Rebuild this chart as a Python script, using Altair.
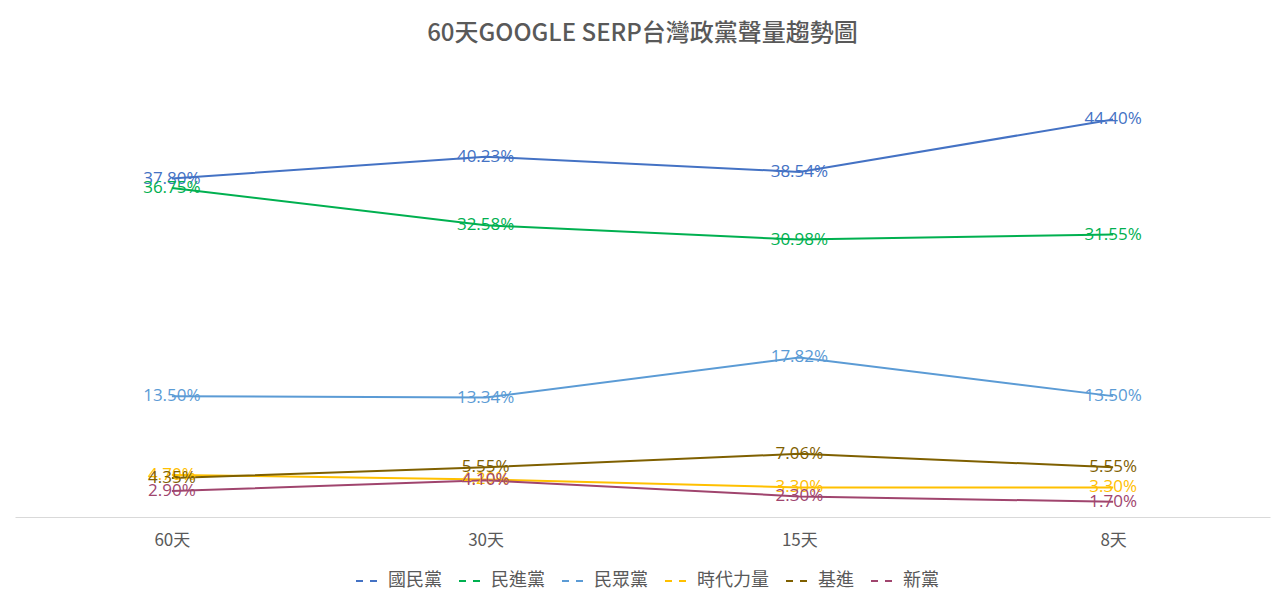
import altair as alt
import pandas as pd

periods = ["60天", "30天", "15天", "8天"]
parties = ["國民黨", "民進黨", "民眾黨", "時代力量", "基進", "新黨"]
kmt = [37.80, 40.23, 38.54, 44.40]
dpp = [36.75, 32.58, 30.98, 31.55]
tpp = [13.50, 13.34, 17.82, 13.50]
npp = [4.70, 4.20, 3.30, 3.30]
tsp = [4.35, 5.55, 7.06, 5.55]
np_ = [2.90, 4.10, 2.30, 1.70]
colors = ["#4472C4", "#00B050", "#5B9BD5", "#FFC000", "#7F6000", "#A0456E"]

series = [kmt, dpp, tpp, npp, tsp, np_]
rows = []
for party, vals in zip(parties, series):
    for p, v in zip(periods, vals):
        rows.append({"period": p, "party": party, "value": v, "label": f"{v:.2f}%"})
df = pd.DataFrame(rows)

x = alt.X("period:N", sort=periods, scale=alt.Scale(type="point", padding=0.5),
          axis=alt.Axis(title=None, labelAngle=0, ticks=False, domainColor="#D9D9D9",
                        domainWidth=1, labelColor="#595959", labelFontSize=17,
                        labelFont="Noto Sans CJK TC", labelPadding=15))
y = alt.Y("value:Q", scale=alt.Scale(domain=[0, 49.7]), axis=None)
color = alt.Color("party:N", sort=parties,
                  scale=alt.Scale(domain=parties, range=colors),
                  legend=alt.Legend(title=None, orient="none", direction="horizontal",
                                    legendX=340, legendY=494, columns=6,
                                    symbolType="stroke", symbolDash=[7, 7],
                                    symbolStrokeWidth=2, symbolSize=784,
                                    labelFont="Noto Sans CJK TC", labelFontSize=18,
                                    labelColor="#595959", columnPadding=13,
                                    labelLimit=200,
                                    symbolOffset=0, labelOffset=3))

base = alt.Chart(df)
lines = base.mark_line(strokeWidth=2).encode(x=x, y=y, color=color, detail="party:N")
texts = base.mark_text(fontSize=17, font="Open Sans", align="center", baseline="middle").encode(
    x=x, y=y, text="label:N", color=alt.Color("party:N", sort=parties,
                                              scale=alt.Scale(domain=parties, range=colors),
                                              legend=None))

chart = (lines + texts).properties(
    width=1255, height=445,
    background="white",
    autosize=alt.AutoSizeParams(type="none"),
    padding={"left": 7, "top": 64, "right": 4, "bottom": 78},
    title=alt.TitleParams("60天GOOGLE SERP台灣政黨聲量趨勢圖", font="Noto Sans CJK TC",
                          fontSize=24, fontWeight=500, color="#595959",
                          anchor="middle", offset=26),
).configure_view(strokeWidth=0, stroke="transparent")

chart.save("out.html", embed_options={"renderer": "svg", "actions": False})
